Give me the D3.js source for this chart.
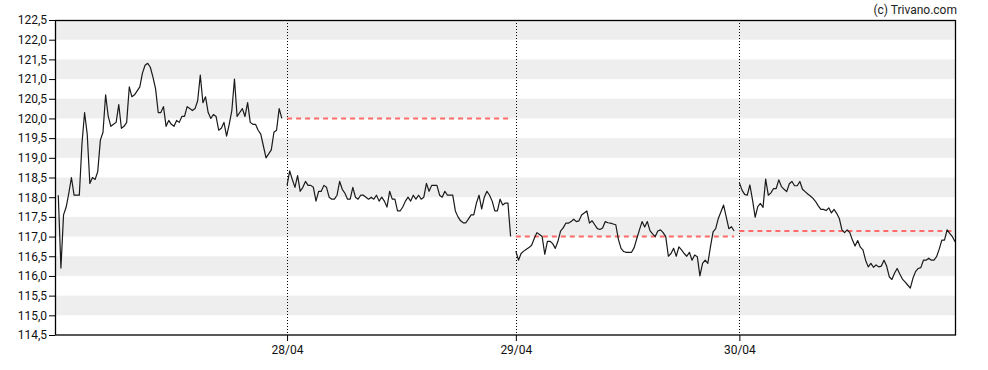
<!DOCTYPE html>
<html>
<head>
<meta charset="utf-8">
<script src="https://cdn.jsdelivr.net/npm/d3@7"></script>
<style>
  body { margin: 0; background: #fff; }
  text { font-family: Roboto, "Liberation Sans", sans-serif; }
</style>
</head>
<body>
<div id="chart"></div>
<script>
// intraday prices, one array per trading day
var dayLabels = ["27/04", "28/04", "29/04", "30/04"];

var day1 = [118.05,116.2,117.55,117.75,118.1,118.5,118.05,118.05,118.05,119.35,
  120.15,119.6,118.35,118.5,118.45,118.65,119.45,119.65,120.6,120.05,
  119.8,119.85,119.9,120.35,119.75,119.8,119.9,120.8,120.55,120.6,
  120.7,120.8,121.15,121.35,121.4,121.3,121.05,120.75,120.15,120.15,
  120.3,119.8,119.95,119.85,119.8,119.95,119.9,120.05,120.05,120.3,
  120.25,120.2,120.25,120.45,121.1,120.4,120.55,120.15,120.0,120.1,
  120.05,119.7,119.75,119.9,119.55,119.85,120.2,121.0,120.05,120.15,
  120.25,120.05,120.4,119.9,119.85,119.85,119.7,119.6,119.3,119.0,
  119.1,119.2,119.65,119.7,120.25,120.0];

var day2 = [118.3,118.67,118.45,118.25,118.55,118.15,118.25,118.4,118.3,118.3,
  118.25,117.9,118.15,118.15,118.3,118.25,118.0,117.95,117.95,118.05,
  118.4,118.2,118.1,117.95,117.95,118.25,118.0,117.95,118.05,118.05,
  118.0,117.95,118.0,117.95,118.05,117.9,118.0,117.9,117.75,118.15,
  117.95,117.95,117.65,117.65,117.75,117.9,118.0,117.9,118.05,117.95,
  118.05,117.95,118.0,118.35,118.15,118.3,118.3,118.3,118.05,118.0,
  118.15,118.05,118.05,118.05,117.65,117.5,117.4,117.35,117.35,117.45,
  117.55,117.55,117.85,118.05,117.7,118.0,118.15,118.05,117.9,117.65,
  117.65,117.95,117.8,117.85,117.85,117.0];

var day3 = [116.63,116.4,116.57,116.63,116.68,116.72,116.78,116.95,117.1,117.05,
  117.0,116.55,116.88,116.88,116.82,116.7,116.88,117.14,117.22,117.34,
  117.34,117.38,117.44,117.38,117.4,117.55,117.6,117.65,117.34,117.4,
  117.3,117.2,117.18,117.22,117.38,117.35,117.34,117.32,117.3,116.93,
  116.7,116.62,116.6,116.6,116.6,116.72,116.95,117.17,117.38,117.24,
  117.38,117.15,117.07,117.0,117.14,117.17,117.1,117.0,116.5,116.57,
  116.7,116.5,116.74,116.66,116.57,116.5,116.6,116.4,116.53,116.49,
  116.0,116.32,116.4,116.32,116.74,117.12,117.2,117.46,117.63,117.8,
  117.5,117.2,117.25,117.14];

var day4 = [118.37,118.18,118.07,118.05,118.31,117.93,117.49,117.76,117.84,117.74,
  118.46,118.05,118.11,118.22,118.22,118.44,118.27,118.2,118.14,118.34,
  118.4,118.29,118.29,118.4,118.2,118.14,118.08,118.03,117.97,117.89,
  117.78,117.69,117.69,117.66,117.73,117.6,117.69,117.59,117.46,117.17,
  117.1,117.17,117.1,116.91,116.76,116.9,116.73,116.66,116.4,116.23,
  116.32,116.22,116.28,116.23,116.25,116.4,116.25,115.98,115.91,116.07,
  116.19,116.05,115.92,115.85,115.77,115.69,115.94,116.11,116.19,116.21,
  116.4,116.4,116.45,116.4,116.4,116.49,116.68,116.91,116.91,117.17,
  117.08,117.0,116.87];

var yTicks = [114.5,115.0,115.5,116.0,116.5,117.0,117.5,118.0,118.5,
  119.0,119.5,120.0,120.5,121.0,121.5,122.0,122.5];

var days = [day1, day2, day3, day4];

// set the dimensions and margins of the graph
var margin = {top: 20, right: 33, bottom: 35, left: 55},
    width = 988 - margin.left - margin.right,
    height = 370 - margin.top - margin.bottom;

var locale = d3.formatLocale({decimal: ",", thousands: ".", grouping: [3], currency: ["", ""]});
var fmt = locale.format(".1f");

// index every point, leave a small gap between days
var series = [];
var idx = 0;
days.forEach(function(d, k) {
  var pts = d.map(function(v) { return {i: idx++, v: v}; });
  series.push({label: dayLabels[k], points: pts});
  idx += 1;
});
var lastIndex = idx - 2;

var svgRoot = d3.select("#chart")
  .append("svg")
    .attr("width", width + margin.left + margin.right)
    .attr("height", height + margin.top + margin.bottom);

svgRoot.append("text")
    .attr("x", 957)
    .attr("y", 14)
    .attr("text-anchor", "end")
    .style("font-size", "12px")
    .attr("fill", "#222")
    .text("(c) Trivano.com");

var svg = svgRoot.append("g")
    .attr("transform", "translate(" + margin.left + "," + margin.top + ")");

var x = d3.scaleLinear()
  .domain([-1.25, lastIndex])
  .range([0, width]);

var y = d3.scaleLinear()
  .domain([d3.min(yTicks), d3.max(yTicks)])
  .range([height, 0]);

// grey bands every other half point
var bands = yTicks.slice(0, -1).filter(function(t, k) { return k % 2 == 0; });
svg.selectAll(".band")
  .data(bands)
  .enter()
  .append("rect")
    .attr("x", 0)
    .attr("width", width)
    .attr("y", function(t) { return y(t + 1.0); })
    .attr("height", function(t) { return y(t + 0.5) - y(t + 1.0); })
    .attr("fill", "#eeeeee");

// vertical dotted day separators
var starts = series.slice(1);
svg.selectAll(".sep")
  .data(starts)
  .enter()
  .append("line")
    .attr("x1", function(s) { return Math.round(x(s.points[0].i)) + 0.5; })
    .attr("x2", function(s) { return Math.round(x(s.points[0].i)) + 0.5; })
    .attr("y1", 0)
    .attr("y2", height)
    .attr("stroke", "#000")
    .attr("stroke-dasharray", "1,2");

// previous close reference lines
svg.selectAll(".prev")
  .data(starts)
  .enter()
  .append("line")
    .attr("x1", function(s) { return x(s.points[0].i); })
    .attr("x2", function(s) { return x(s.points[s.points.length - 1].i); })
    .attr("y1", function(s, k) { var p = series[k].points; return y(p[p.length - 1].v); })
    .attr("y2", function(s, k) { var p = series[k].points; return y(p[p.length - 1].v); })
    .attr("stroke", "#ff6b6b")
    .attr("stroke-width", 2)
    .attr("stroke-dasharray", "5,4");

// price line, one path per day
var line = d3.line()
  .x(function(d) { return x(d.i); })
  .y(function(d) { return y(d.v); });

svg.selectAll(".day")
  .data(series)
  .enter()
  .append("path")
    .attr("d", function(s) { return line(s.points); })
    .attr("fill", "none")
    .attr("stroke", "#1a1a1a")
    .attr("stroke-width", 1.2)
    .attr("stroke-linejoin", "round");

// axes
var yAxis = svg.append("g")
  .call(d3.axisLeft(y).tickValues(yTicks).tickFormat(fmt).tickSize(6).tickPadding(2));

var xAxis = svg.append("g")
  .attr("transform", "translate(0," + height + ")")
  .call(d3.axisBottom(x)
    .tickValues(starts.map(function(s) { return s.points[0].i; }))
    .tickFormat(function(v) { return starts.filter(function(s) { return s.points[0].i == v; })[0].label; })
    .tickSize(6)
    .tickPadding(4));

[xAxis, yAxis].forEach(function(a) {
  a.select(".domain").remove();
  a.selectAll("text").style("font-size", "12px").attr("fill", "#111").style("font-family", "Roboto, sans-serif");
  a.selectAll("line").attr("stroke", "#000");
});

// frame
svg.append("rect")
    .attr("x", 0.5)
    .attr("y", 0.5)
    .attr("width", width)
    .attr("height", height - 0.5)
    .attr("fill", "none")
    .attr("stroke", "#000")
    .attr("stroke-width", 1.3);
</script>
</body>
</html>
